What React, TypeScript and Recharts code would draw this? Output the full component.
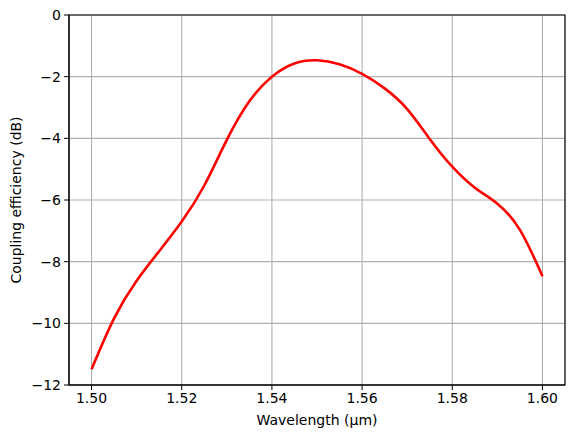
import React from 'react';
import {
  LineChart,
  Line,
  XAxis,
  YAxis,
  CartesianGrid,
  ReferenceArea,
} from 'recharts';

// wavelength samples (µm) and coupling efficiency (dB)
const wavelength = [
  1.5, 1.505, 1.51, 1.515, 1.52, 1.525, 1.53, 1.535, 1.54, 1.545, 1.55,
  1.555, 1.56, 1.565, 1.57, 1.575, 1.58, 1.585, 1.59, 1.595, 1.6,
];
const efficiency = [
  -11.49, -9.84, -8.62, -7.66, -6.7, -5.53, -4.05, -2.8, -2.0, -1.57, -1.47,
  -1.6, -1.91, -2.38, -3.05, -4.02, -4.92, -5.6, -6.12, -6.97, -8.47,
];

const xTicks = [1.5, 1.52, 1.54, 1.56, 1.58, 1.6];
const yTicks = [0, -2, -4, -6, -8, -10, -12];

const data = wavelength.map((w, i) => ({ w, ce: efficiency[i] }));

const FONT = '"DejaVu Sans", sans-serif';
const FS = 14;
const tickStyle = { fill: '#000', fontSize: FS, fontFamily: FONT };
const fmtY = (v: number) => (v < 0 ? '\u2212' + Math.abs(v) : String(v));

const App: React.FC = () => {
  return (
    <div style={{ position: 'fixed', left: 0, top: 0, width: 574, height: 438, background: '#fff' }}>
      <LineChart
        width={574}
        height={438}
        data={data}
        margin={{ top: 15, right: 9, left: 0, bottom: 0 }}
      >
        <CartesianGrid stroke="#b0b0b0" strokeWidth={1.1} />
        <XAxis
          dataKey="w"
          type="number"
          domain={[1.495, 1.605]}
          ticks={xTicks}
          tickFormatter={(v: number) => v.toFixed(2)}
          height={53}
          tick={tickStyle}
          tickSize={5}
          tickMargin={3}
          stroke="#000"
          allowDataOverflow
          label={(props: any) => {
            const vb = props.viewBox;
            return (
              <text
                x={vb.x + vb.width / 2}
                y={425}
                textAnchor="middle"
                fontSize={FS}
                fontFamily={FONT}
                fill="#000"
              >
                Wavelength (µm)
              </text>
            );
          }}
        />
        <YAxis
          type="number"
          domain={[-12, 0]}
          ticks={yTicks}
          tickFormatter={fmtY}
          width={69}
          tick={tickStyle}
          tickSize={5}
          tickMargin={3}
          stroke="#000"
          allowDataOverflow
          label={(props: any) => {
            const vb = props.viewBox;
            const cy = vb.y + vb.height / 2;
            return (
              <text
                x={21}
                y={cy}
                transform={`rotate(-90 21 ${cy})`}
                textAnchor="middle"
                fontSize={FS}
                fontFamily={FONT}
                fill="#000"
              >
                Coupling efficiency (dB)
              </text>
            );
          }}
        />
        <ReferenceArea
          x1={1.495}
          x2={1.605}
          y1={-12}
          y2={0}
          fill="none"
          stroke="#000"
          strokeWidth={1.1}
          ifOverflow="visible"
        />
        <Line
          type="natural"
          dataKey="ce"
          stroke="#ff0000"
          strokeWidth={2.6}
          dot={false}
          isAnimationActive={false}
        />
      </LineChart>
    </div>
  );
};

export default App;
